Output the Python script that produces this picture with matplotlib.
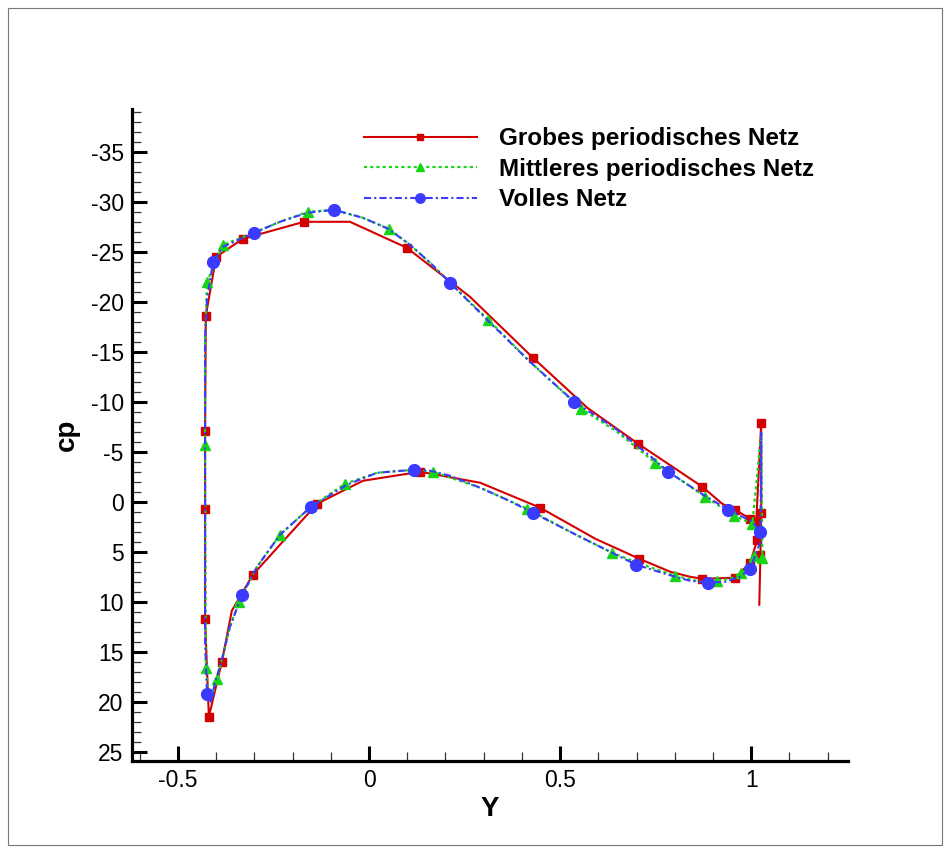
import matplotlib
matplotlib.use("Agg")
import matplotlib.pyplot as plt
from matplotlib.patches import Rectangle
from matplotlib.ticker import MultipleLocator

plt.rcParams['font.family'] = ['Liberation Sans', 'DejaVu Sans']

# ---------- Data (cp along the blade) ----------

grob_y = [1.016, 0.997, 0.958, 0.872, 0.840, 0.788, 0.707, 0.592, 0.448, 0.291,
          0.134, -0.016, -0.136, -0.304, -0.359, -0.385, -0.419, -0.429, -0.429, -0.429,
          -0.427, -0.400, -0.330, -0.170, -0.050, 0.099, 0.264, 0.429, 0.571, 0.704,
          0.872, 0.924, 0.958, 0.997, 1.013, 1.026, 1.026, 1.024, 1.021]
grob_cp = [3.8, 6.1, 7.6, 7.7, 7.5, 7.0, 5.7, 3.7, 0.6, -1.9,
           -3.0, -2.1, 0.2, 7.3, 10.9, 16.0, 21.5, 11.7, 0.7, -7.1,
           -18.6, -24.5, -26.3, -28.0, -28.0, -25.4, -20.5, -14.4, -9.4, -5.8,
           -1.5, 0.2, 0.8, 1.7, 2.0, -7.9, 1.1, 5.3, 10.3]

mittel_y = [1.008, 0.992, 0.974, 0.945, 0.911, 0.866, 0.801, 0.709, 0.636, 0.526,
            0.414, 0.291, 0.168, 0.118, 0.021, -0.063, -0.152, -0.233, -0.293, -0.340,
            -0.364, -0.385, -0.398, -0.411, -0.421, -0.427, -0.429, -0.429, -0.424, -0.382,
            -0.301, -0.233, -0.160, -0.092, -0.016, 0.052, 0.107, 0.160, 0.212, 0.312,
            0.421, 0.555, 0.649, 0.749, 0.880, 0.955, 1.003, 1.026, 1.029]
mittel_cp = [5.4, 6.5, 7.1, 7.7, 7.9, 8.0, 7.4, 6.2, 5.1, 3.0,
             0.7, -1.4, -3.0, -3.2, -2.9, -1.8, 0.5, 3.3, 6.5, 10.0,
             12.5, 15.8, 17.7, 19.5, 18.8, 16.6, -5.7, -16.2, -22.0, -25.7,
             -26.9, -28.0, -29.0, -29.2, -28.4, -27.3, -25.7, -23.9, -21.9, -18.2,
             -14.0, -9.3, -7.0, -3.9, -0.5, 1.4, 2.2, -6.9, 5.6]

voll_y = [1.024, 1.010, 0.997, 0.971, 0.932, 0.887, 0.840, 0.783, 0.699, 0.636,
          0.552, 0.429, 0.361, 0.291, 0.212, 0.160, 0.118, 0.021, -0.058, -0.152,
          -0.233, -0.293, -0.332, -0.364, -0.385, -0.403, -0.414, -0.424, -0.429, -0.429,
          -0.429, -0.424, -0.408, -0.382, -0.301, -0.233, -0.162, -0.092, -0.016, 0.050,
          0.107, 0.160, 0.212, 0.309, 0.421, 0.537, 0.649, 0.741, 0.783, 0.866,
          0.940, 1.003, 1.024, 1.026, 1.026]
voll_cp = [4.0, 5.4, 6.7, 7.5, 8.0, 8.1, 7.9, 7.3, 6.3, 5.1,
           3.5, 1.1, -0.2, -1.4, -2.6, -3.1, -3.2, -2.9, -1.7, 0.5,
           3.3, 6.5, 9.3, 12.5, 15.8, 18.1, 20.0, 19.2, 13.8, -5.2,
           -16.2, -20.2, -24.0, -25.5, -26.9, -28.0, -28.9, -29.2, -28.4, -27.3,
           -25.7, -23.9, -21.9, -18.2, -14.0, -10.0, -7.2, -4.4, -3.0, -0.9,
           0.8, 2.0, 3.0, -6.9, -0.2]

labels = ["Grobes periodisches Netz", "Mittleres periodisches Netz", "Volles Netz"]

# which points carry a symbol
grob_marks = [0, 1, 2, 3, 6, 8, 10, 12, 13, 15, 16, 17, 18, 19, 20, 21, 22, 23,
              25, 27, 29, 30, 32, 33, 34, 35, 36, 37]
mittel_marks = [0, 2, 4, 6, 8, 10, 12, 15, 17, 19, 22, 25, 26, 28, 29, 32, 35,
                39, 41, 43, 44, 45, 46, 48]
voll_marks = [2, 5, 8, 11, 16, 19, 22, 27, 32, 34, 37, 42, 45, 48, 50, 52]

# ---------- Plot ----------

fig = plt.figure(figsize=(9.5, 8.5), dpi=100)
ax = fig.add_axes([0.139, 0.105, 0.754, 0.767])

ax.plot(grob_y, grob_cp, color="#d40000", lw=1.5, marker="s", ms=5.5,
        markevery=grob_marks, label=labels[0])
ax.plot(mittel_y, mittel_cp, color="#16d416", lw=1.6, ls=(0, (1.4, 1.4)), marker="^",
        ms=6.5, markevery=mittel_marks, label=labels[1])
ax.plot(voll_y, voll_cp, color="#3b3bff", lw=1.5, ls=(0, (3.4, 1.5, 1.0, 1.5)), marker="o",
        ms=8.5, markevery=voll_marks, label=labels[2])

ax.set_xlim(-0.62, 1.254)
ax.set_ylim(25.9, -39.3)

ax.xaxis.set_major_locator(MultipleLocator(0.5))
ax.xaxis.set_minor_locator(MultipleLocator(0.1))
ax.yaxis.set_major_locator(MultipleLocator(5))
ax.yaxis.set_minor_locator(MultipleLocator(1))
ax.xaxis.set_major_formatter(plt.FuncFormatter(lambda v, p: f"{v:g}"))
ax.yaxis.set_major_formatter(plt.FuncFormatter(lambda v, p: f"{v:g}"))

for side in ["top", "right"]:
    ax.spines[side].set_visible(False)
for side in ["left", "bottom"]:
    ax.spines[side].set_linewidth(2.3)

ax.tick_params(which="major", direction="in", length=11, width=2.2, labelsize=16.5, pad=6)
ax.tick_params(which="minor", direction="in", length=6.5, width=0.9, color="#333333")

ax.set_xlabel("Y", fontsize=20, fontweight="bold", labelpad=3)
ax.set_ylabel("cp", fontsize=20, fontweight="bold", labelpad=8)

ax.legend(loc="upper left", bbox_to_anchor=(0.360, 0.8758), bbox_transform=fig.transFigure,
          frameon=False, handlelength=4.65, handletextpad=0.9, labelspacing=0.30,
          numpoints=1, markerscale=0.8, prop={"weight": "bold", "size": 17.5})

# thin frame round the picture
fig.patches.append(Rectangle((0.008, 0.006), 0.984, 0.985, transform=fig.transFigure,
                             fill=False, edgecolor="#777777", lw=0.8))

fig.savefig("out.png", dpi=100)
